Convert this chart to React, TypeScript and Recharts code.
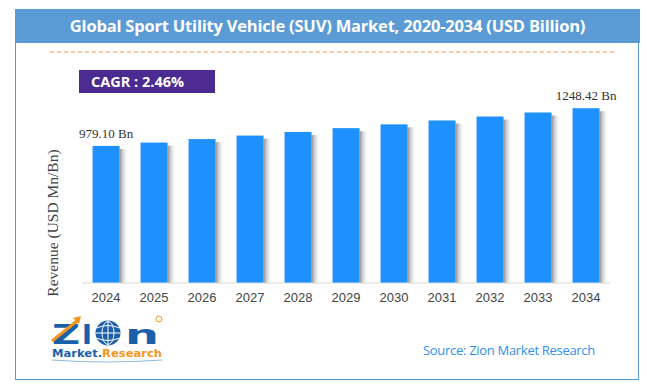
import React from "react";
import { BarChart, Bar, XAxis, YAxis, LabelList } from "recharts";

const years = ["2024", "2025", "2026", "2027", "2028", "2029", "2030", "2031", "2032", "2033", "2034"];
const revenue = [979.1, 1003, 1028, 1053, 1079, 1106, 1133, 1161, 1189, 1218, 1248.42];
const valueLabels = ["979.10 Bn", "", "", "", "", "", "", "", "", "", "1248.42 Bn"];

const data = years.map((year, i) => ({
  year,
  revenue: revenue[i],
  label: valueLabels[i],
}));

const BAR_BLUE = "#1E90FF";
const FRAME_BLUE = "#5B9BD5";
const LOGO_BLUE = "#1B5FAA";
const LOGO_ORANGE = "#F7941D";

// bar with a soft grey shadow on its right side
const ShadowBar = (props: any) => {
  const { x, y, width, height } = props;
  if (!height || height <= 0) return null;
  return (
    <g>
      <rect x={x + width} y={y + 3} width={9} height={height - 3} fill="url(#barShadow)" />
      <rect x={x} y={y} width={width} height={height} fill={BAR_BLUE} />
    </g>
  );
};

const ValueLabel = (props: any) => {
  const { x, y, width, value } = props;
  if (!value) return null;
  return (
    <text
      x={x + width / 2}
      y={y - 8}
      textAnchor="middle"
      fontFamily="Liberation Serif, serif"
      fontSize={13}
      fill="#333"
    >
      {value}
    </text>
  );
};

function Logo() {
  const heavy = { fontFamily: "DejaVu Sans, sans-serif", fontWeight: 900, fontSize: 27, fill: LOGO_BLUE };
  return (
    <svg width={130} height={60} style={{ position: "absolute", left: 46, top: 313 }}>
      <text x={6} y={31} {...heavy} textLength={28} lengthAdjust="spacingAndGlyphs">
        Z
      </text>
      <text x={36} y={31} {...heavy} textLength={10} lengthAdjust="spacingAndGlyphs">
        I
      </text>
      <circle cx={62} cy={20} r={12.5} fill={LOGO_BLUE} />
      <ellipse cx={62} cy={20} rx={6} ry={11.5} stroke="#fff" strokeWidth={1} fill="none" />
      <path d="M50.5 15 Q62 10 73.5 15 M50.5 25 Q62 30 73.5 25 M49.5 20 L74.5 20 M62 7.5 L62 32.5" stroke="#fff" strokeWidth={1} fill="none" />
      <text x={79} y={31} {...heavy} textLength={34} lengthAdjust="spacingAndGlyphs">
        n
      </text>
      <path d="M6 28 L31 8" stroke={LOGO_ORANGE} strokeWidth={3} />
      <path d="M27 5 L35 3 L33 11 Z" fill={LOGO_ORANGE} />
      <circle cx={113} cy={6} r={3} fill="none" stroke={LOGO_ORANGE} strokeWidth={1} />
      <text
        x={6}
        y={44}
        fontFamily="DejaVu Sans, sans-serif"
        fontWeight={700}
        fontSize={10}
        fill={LOGO_BLUE}
        textLength={110}
        lengthAdjust="spacingAndGlyphs"
      >
        Market.
        <tspan fill={LOGO_ORANGE}>Research</tspan>
      </text>
      <path d="M6 47 Q60 51 116 47" stroke="#8FB8E0" strokeWidth={1} fill="none" />
    </svg>
  );
}

export default function App() {
  return (
    <div style={{ position: "absolute", left: 0, top: 0, width: 647, height: 388, background: "#fff" }}>
      {/* frame and title bar */}
      <div
        style={{
          position: "absolute",
          left: 15,
          top: 9,
          width: 624,
          height: 371,
          border: `1.5px solid ${FRAME_BLUE}`,
          boxSizing: "border-box",
        }}
      />
      <div
        style={{
          position: "absolute",
          left: 15,
          top: 9,
          width: 625,
          height: 34,
          background: FRAME_BLUE,
          color: "#fff",
          fontFamily: "Open Sans, sans-serif",
          fontWeight: 700,
          fontSize: 16.5,
          letterSpacing: -0.2,
          lineHeight: "34px",
          textAlign: "center",
        }}
      >
        Global Sport Utility Vehicle (SUV) Market, 2020-2034 (USD Billion)
      </div>
      <svg width={647} height={60} style={{ position: "absolute", left: 0, top: 45 }}>
        <line x1={50} y1={7} x2={617} y2={7} stroke="#F79646" strokeWidth={1} strokeDasharray="4 3" />
      </svg>
      <div
        style={{
          position: "absolute",
          left: 79,
          top: 70,
          width: 136,
          height: 23,
          background: "#4B2A92",
          color: "#fff",
          fontFamily: "Open Sans, sans-serif",
          fontWeight: 700,
          fontSize: 14.5,
          lineHeight: "23px",
          paddingLeft: 12,
          boxSizing: "border-box",
        }}
      >
        CAGR : 2.46%
      </div>

      <div style={{ position: "absolute", left: 0, top: 0 }}>
        <BarChart
          width={647}
          height={388}
          data={data}
          margin={{ top: 87, right: 37, left: 82, bottom: 75 }}
          barCategoryGap="22%"
        >
          <defs>
            <linearGradient id="barShadow" x1="0" y1="0" x2="1" y2="0">
              <stop offset="0%" stopColor="#7f7f7f" stopOpacity={0.9} />
              <stop offset="100%" stopColor="#ffffff" stopOpacity={0} />
            </linearGradient>
          </defs>
          <XAxis
            dataKey="year"
            height={30}
            tickLine={false}
            axisLine={{ stroke: "#d9d9d9" }}
            tickMargin={4}
            interval={0}
            tick={{ fill: "#444", fontSize: 13, fontFamily: "Liberation Sans, Arial, sans-serif" }}
          />
          <YAxis hide domain={[0, 1400]} />
          <Bar dataKey="revenue" shape={ShadowBar} isAnimationActive={false}>
            <LabelList dataKey="label" content={ValueLabel} />
          </Bar>
        </BarChart>
      </div>

      <div
        style={{
          position: "absolute",
          left: 53,
          top: 223,
          transform: "translate(-50%, -50%) rotate(-90deg)",
          whiteSpace: "nowrap",
          fontFamily: "Liberation Serif, serif",
          fontSize: 15.5,
          color: "#444",
        }}
      >
        Revenue (USD Mn/Bn)
      </div>

      <Logo />

      <div
        style={{
          position: "absolute",
          left: 423,
          top: 341,
          fontFamily: "Open Sans, sans-serif",
          fontSize: 13,
          letterSpacing: -0.3,
          color: "#2E8FF0",
          whiteSpace: "nowrap",
        }}
      >
        Source: Zion Market Research
      </div>
    </div>
  );
}
